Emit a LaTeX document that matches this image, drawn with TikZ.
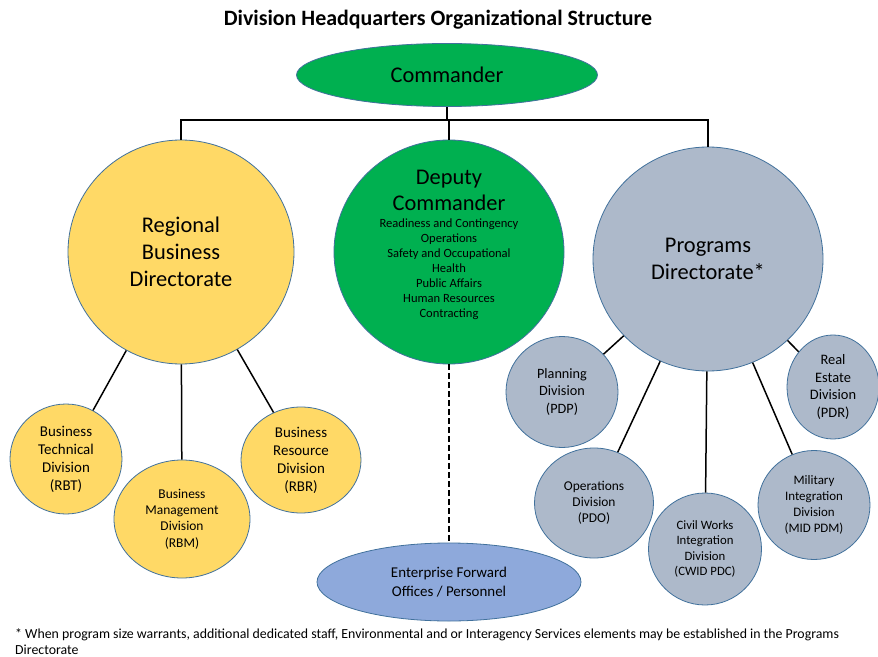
\documentclass[tikz,border=0pt]{standalone}
\usepackage{fontspec}
\setmainfont{Carlito}
\usetikzlibrary{shapes.geometric}
\definecolor{cgreen}{HTML}{00B050}
\definecolor{cyellow}{HTML}{FFD966}
\definecolor{cgrey}{HTML}{ADB9CA}
\definecolor{cblue}{HTML}{8EA9DB}
\definecolor{cedge}{HTML}{41719C}
\tikzset{
  blob/.style={ellipse, draw=cedge, line width=0.8bp, inner sep=0pt, align=center, text=black},
  conn/.style={draw=black, line width=1.5bp},
}
\newcommand{\fsz}[2]{\fontsize{#1}{#2}\selectfont}
\begin{document}
\begin{tikzpicture}[x=1bp,y=-1bp]
\useasboundingbox[fill=white] (0,0) rectangle (878,657);
\node[font=\bfseries\fsz{22}{26}] (title) at (438,20) {Division Headquarters Organizational Structure};
\node[blob, fill=cgreen, minimum width=301bp, minimum height=63bp, font=\fsz{22.5}{26}] (cmd) at (447,75) {Commander};
\node[blob, fill=cyellow, minimum width=226bp, minimum height=224bp, font=\fsz{22.5}{27}] (rbd) at (181,252) {Regional\\Business\\Directorate};
\node[blob, fill=cgreen, minimum width=230bp, minimum height=224bp] (dc) at (449,252) {};
\node[align=center, font=\fsz{22.5}{26}] (dct) at (449,190) {Deputy\\Commander};
\node[align=center, font=\fsz{12.6}{15}] (dcl) at (449,269) {Readiness and Contingency\\Operations\\Safety and Occupational\\Health\\Public Affairs\\Human Resources\\Contracting};
\node[blob, fill=cgrey, minimum width=230bp, minimum height=224bp, font=\fsz{22.5}{27}] (pd) at (708,259) {Programs\\Directorate*};
% business divisions
\node[blob, fill=cyellow, minimum width=112bp, minimum height=110bp, font=\fsz{15}{18}] (rbt) at (66,459) {Business\\Technical\\Division\\(RBT)};
\node[blob, fill=cyellow, minimum width=136bp, minimum height=118bp, font=\fsz{13.5}{16.5}] (rbm) at (182,519) {Business\\Management\\Division\\(RBM)};
\node[blob, fill=cyellow, minimum width=120bp, minimum height=106bp, font=\fsz{15}{18}] (rbr) at (301,460) {Business\\Resource\\Division\\(RBR)};
% programs divisions
\node[blob, fill=cgrey, minimum width=112bp, minimum height=111bp, font=\fsz{14.3}{18}] (pdp) at (562,392) {Planning\\Division\\(PDP)};
\node[blob, fill=cgrey, minimum width=92bp, minimum height=104bp, font=\fsz{14.5}{18}] (pdr) at (833,387) {Real\\Estate\\Division\\(PDR)};
\node[blob, fill=cgrey, minimum width=119bp, minimum height=110bp, font=\fsz{13.5}{16}] (pdo) at (594,503) {Operations\\Division\\(PDO)};
\node[blob, fill=cgrey, minimum width=113bp, minimum height=112bp, font=\fsz{12.8}{15.5}] (cwid) at (705,549) {Civil Works\\Integration\\Division\\(CWID PDC)};
\node[blob, fill=cgrey, minimum width=112bp, minimum height=109bp, font=\fsz{13}{16}] (mid) at (814,505) {Military\\Integration\\Division\\(MID PDM)};
% enterprise
\node[blob, fill=cblue, minimum width=264bp, minimum height=78bp, font=\fsz{15}{19}] (ef) at (449,582) {Enterprise Forward\\Offices / Personnel};
% connectors
\coordinate (bus) at (447,120);
\draw[conn] (cmd.south) -- (cmd.south |- bus);
\draw[conn] (rbd.north) -- (rbd.north |- bus) -| (pd.north);
\draw[conn] (dc.north) -- (dc.north |- bus);
\draw[conn] (rbd) -- (rbt);
\draw[conn] (rbd) -- (rbm);
\draw[conn] (rbd) -- (rbr);
\draw[conn] (pd) -- (pdp);
\draw[conn] (pd) -- (pdo);
\draw[conn] (pd) -- (cwid);
\draw[conn] (pd) -- (mid);
\draw[conn] (pd) -- (pdr);
\draw[conn, dashed, dash pattern=on 6bp off 3bp] (dc.south) -- (ef.north);
% footnote
\node[anchor=north west, align=left, inner sep=0pt, font=\fsz{13.9}{17}] (note) at (15,628) {* When program size warrants, additional dedicated staff, Environmental and or Interagency Services elements may be established in the Programs\\Directorate};
\end{tikzpicture}
\end{document}
